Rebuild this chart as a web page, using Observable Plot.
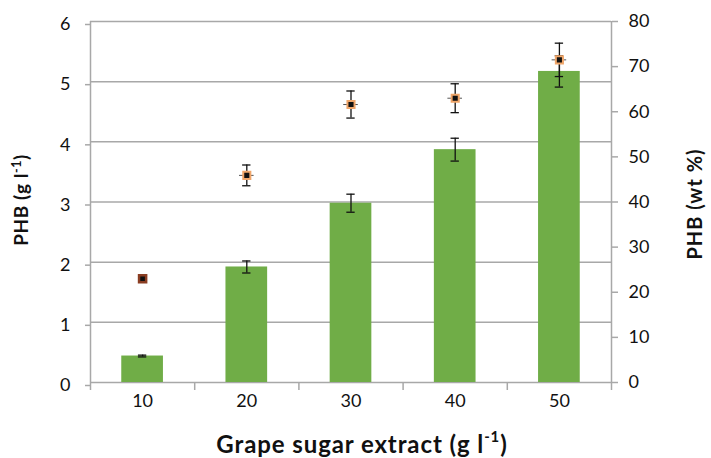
<!DOCTYPE html>
<html>
<head>
<meta charset="utf-8">
<script src="https://cdn.jsdelivr.net/npm/d3@7"></script>
<script src="https://cdn.jsdelivr.net/npm/@observablehq/plot@0.6"></script>
<style>
  html, body { margin: 0; padding: 0; background: #fff; }
  #wrap { position: relative; width: 711px; height: 458px; font-family: Lato, "Open Sans", sans-serif; color: #111; }
  .ttl { position: absolute; font-weight: bold; white-space: nowrap; line-height: 1; }
  .ttl sup { font-size: 0.65em; vertical-align: 0; position: relative; top: -0.55em; }
  #ytitle { left: 21px; top: 200px; font-size: 19px; letter-spacing: 0.6px; transform: translate(-50%, -50%) rotate(-90deg); }
  #y2title { left: 694px; top: 204px; font-size: 20px; letter-spacing: 1px; transform: translate(-50%, -50%) rotate(-90deg); }
  #xtitle { left: 362px; top: 444px; font-size: 24px; letter-spacing: 0.9px; transform: translate(-50%, -50%); }
  #xtitle sup { font-size: 0.62em; top: -0.75em; }
</style>
</head>
<body>
<div id="wrap"></div>
<script>
// ---- data ----
const categories = [10, 20, 30, 40, 50];             // grape sugar extract (g/l)
const phbConc    = [0.44, 1.92, 2.98, 3.87, 5.17];   // PHB (g/l)  - bars, left axis
const phbConcErr = [0.015, 0.10, 0.15, 0.19, 0.26];
const phbWt      = [23.0, 45.9, 61.6, 63.0, 71.5];   // PHB (wt %) - points, right axis
const phbWtErr   = [0, 2.3, 3.0, 3.2, 3.7];
const leftTicks  = [0, 1, 2, 3, 4, 5, 6];
const rightTicks = [0, 10, 20, 30, 40, 50, 60, 70, 80];
const xBoundaries = [5, 15, 25, 35, 45, 55];

const k = 6 / 80; // right axis (0-80) mapped onto left axis (0-6)
const rows = categories.map((x, i) => ({
  x, c: phbConc[i], ce: phbConcErr[i], w: phbWt[i] * k, we: phbWtErr[i] * k, i
}));

const grid = "#a8a8a8";
const chart = Plot.plot({
  width: 711,
  height: 458,
  marginLeft: 90,
  marginRight: 100,
  marginTop: 21,
  marginBottom: 76,
  x: { domain: [5, 55] },
  y: { domain: [0, 6] },
  style: { fontFamily: "Lato, 'Open Sans', sans-serif", fontSize: "18px", color: "#111", background: "#fff" },
  marks: [
    Plot.gridY(leftTicks, { stroke: grid, strokeOpacity: 1, strokeWidth: 1.5 }),
    Plot.ruleX([5, 55], { stroke: grid, strokeWidth: 1.5 }),
    Plot.axisY(leftTicks, { anchor: "left", tickSize: 5, tickPadding: 15, stroke: grid, strokeWidth: 1.5, dy: 3, label: null, fontSize: 18, tickFormat: d => String(d) }),
    Plot.axisY(rightTicks.map(v => v * k), { anchor: "right", tickSize: 6, tickPadding: 11, stroke: grid, strokeWidth: 1.5, label: null, fontSize: 18, tickFormat: v => String(Math.round(v / k)) }),
    Plot.axisX(xBoundaries, { anchor: "bottom", tickSize: 8, stroke: grid, strokeWidth: 1.5, tickFormat: () => "", label: null }),
    Plot.axisX(categories, { anchor: "bottom", tickSize: 0, tickPadding: 12, label: null, fontSize: 18, tickFormat: d => String(d) }),
    // bars
    Plot.rectY(rows, { x1: d => d.x - 2, x2: d => d.x + 2, y: "c", fill: "#70ad47" }),
    // bar error bars
    Plot.ruleX(rows, { x: "x", y1: d => d.c - d.ce, y2: d => d.c + d.ce, stroke: "#111", strokeWidth: 1.3 }),
    Plot.ruleY(rows, { y: d => d.c - d.ce, x1: d => d.x - 0.4, x2: d => d.x + 0.4, stroke: "#111", strokeWidth: 1.3 }),
    Plot.ruleY(rows, { y: d => d.c + d.ce, x1: d => d.x - 0.4, x2: d => d.x + 0.4, stroke: "#111", strokeWidth: 1.3 }),
    // point error bars
    Plot.ruleX(rows.filter(d => d.we > 0), { x: "x", y1: d => d.w - d.we, y2: d => d.w + d.we, stroke: "#111", strokeWidth: 1.3 }),
    Plot.ruleY(rows.filter(d => d.we > 0), { y: d => d.w - d.we, x1: d => d.x - 0.4, x2: d => d.x + 0.4, stroke: "#111", strokeWidth: 1.3 }),
    Plot.ruleY(rows.filter(d => d.we > 0), { y: d => d.w + d.we, x1: d => d.x - 0.4, x2: d => d.x + 0.4, stroke: "#111", strokeWidth: 1.3 }),
    Plot.ruleY(rows.filter(d => d.we > 0), { y: "w", x1: d => d.x - 0.7, x2: d => d.x + 0.7, stroke: "#555", strokeWidth: 1 }),
    // points
    Plot.dot(rows, { x: "x", y: "w", symbol: "square", r: 4, fill: "#111",
      stroke: d => d.i === 0 ? "#8a3d22" : "#f0a66a", strokeWidth: d => d.i === 0 ? 2.5 : 2 })
  ]
});

const wrap = document.getElementById("wrap");
wrap.appendChild(chart);
wrap.insertAdjacentHTML("beforeend",
  '<div class="ttl" id="ytitle">PHB (g l<sup>-1</sup>)</div>' +
  '<div class="ttl" id="y2title">PHB (wt %)</div>' +
  '<div class="ttl" id="xtitle">Grape sugar extract (g l<sup>-1</sup>)</div>');
chart.style.position = "absolute";
chart.style.left = "0";
chart.style.top = "0";
</script>
</body>
</html>
